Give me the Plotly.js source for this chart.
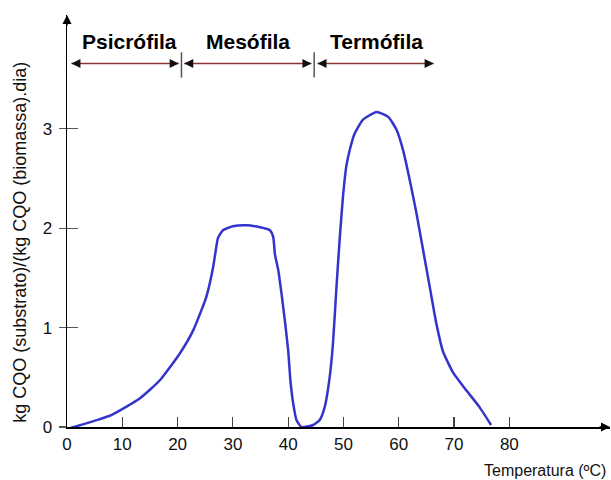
<!DOCTYPE html>
<html>
<head>
<meta charset="utf-8">
<script src="https://cdn.plot.ly/plotly-3.0.1.min.js"></script>
<style>html,body{margin:0;padding:0;background:#fff;}#chart{width:611px;height:480px;}</style>
</head>
<body>
<div id="chart"></div>
<script>
// Curve: specific substrate utilisation rate vs temperature
const temperature = [0, 8.0, 13.2, 16.8, 20.4, 22.8, 25.2, 26.4, 26.8, 27.3, 28.2, 30.0, 32.4, 34.9, 36.7, 37.3, 37.6, 38.2, 38.8, 39.4, 40.0, 40.4, 40.9, 41.5, 42.4, 44.5, 45.7, 46.6, 47.5, 48.1, 48.7, 49.3, 49.9, 50.5, 51.1, 52.0, 53.5, 56.0, 58.1, 59.6, 60.8, 62.0, 63.2, 64.4, 65.6, 66.8, 68.0, 69.8, 72.2, 74.6, 76.7];
const rate = [-0.02, 0.12, 0.29, 0.47, 0.74, 0.97, 1.31, 1.60, 1.74, 1.90, 1.98, 2.02, 2.03, 2.01, 1.98, 1.91, 1.74, 1.58, 1.34, 1.07, 0.77, 0.47, 0.24, 0.07, 0.0, 0.02, 0.07, 0.20, 0.50, 0.84, 1.38, 1.88, 2.31, 2.62, 2.78, 2.95, 3.09, 3.17, 3.12, 2.99, 2.78, 2.48, 2.15, 1.78, 1.41, 1.04, 0.76, 0.55, 0.37, 0.20, 0.02];

// Temperature zones
const zoneNames = ["Psicrófila", "Mesófila", "Termófila"];
const zoneStart = [0.8, 21.2, 45.3];
const zoneEnd = [20.2, 44.2, 66.3];
const zoneDividers = [20.7, 44.7];
const labelShift = [4, 0, 1];

const xTicks = [0, 10, 20, 30, 40, 50, 60, 70, 80];
const yTicks = [0, 1, 2, 3];

const FONT = "Liberation Sans, Arial, sans-serif";
const arrowY = 3.656;

const shapes = [];
const annotations = [];
for (let i = 0; i < zoneNames.length; i++) {
  shapes.push({type: 'line', xref: 'x', yref: 'y', x0: zoneStart[i], x1: zoneEnd[i], y0: arrowY, y1: arrowY,
    line: {color: '#8b3535', width: 1.5}});
  annotations.push({xref: 'x', yref: 'y', x: zoneEnd[i], y: arrowY, ax: -9, ay: 0, showarrow: true,
    arrowhead: 2, arrowsize: 1.2, arrowwidth: 1.5, arrowcolor: '#111', text: ''});
  annotations.push({xref: 'x', yref: 'y', x: zoneStart[i], y: arrowY, ax: 9, ay: 0, showarrow: true,
    arrowhead: 2, arrowsize: 1.2, arrowwidth: 1.5, arrowcolor: '#111', text: ''});
  annotations.push({xref: 'x', yref: 'y', x: (zoneStart[i] + zoneEnd[i]) / 2, y: 3.88, xshift: labelShift[i], showarrow: false,
    text: '<b>' + zoneNames[i] + '</b>', font: {family: FONT, size: 21, color: '#000'}, xanchor: 'center', yanchor: 'middle'});
}
zoneDividers.forEach(d => shapes.push({type: 'line', xref: 'x', yref: 'y', x0: d, x1: d, y0: 3.515, y1: 3.77,
  line: {color: '#555', width: 1.5}}));

// axis arrows
annotations.push({xref: 'paper', yref: 'paper', x: 0, y: 1, ax: 0, ay: 12, showarrow: true, arrowhead: 2,
  arrowsize: 1.2, arrowwidth: 1.5, arrowcolor: '#000', text: ''});
annotations.push({xref: 'paper', yref: 'paper', x: 1, y: 0, ax: -12, ay: 0, showarrow: true, arrowhead: 2,
  arrowsize: 1.2, arrowwidth: 1.5, arrowcolor: '#000', text: ''});

// axis titles
annotations.push({xref: 'paper', yref: 'paper', x: 0.9963, y: -0.105, xanchor: 'right', yanchor: 'middle', showarrow: false,
  text: 'Temperatura (ºC)', font: {family: FONT, size: 16, color: '#111'}});
annotations.push({xref: 'paper', yref: 'paper', x: -0.086, y: 0.448, xanchor: 'center', yanchor: 'middle', showarrow: false,
  textangle: -90, text: 'kg CQO (substrato)/(kg CQO (biomassa).dia)', font: {family: FONT, size: 18, color: '#111'}});

const data = [{
  x: temperature, y: rate, type: 'scatter', mode: 'lines',
  line: {color: '#3434cc', width: 2.5, shape: 'spline', smoothing: 0.5},
  hoverinfo: 'skip'
}, {
  x: [0], y: [0], yaxis: 'y2', type: 'scatter', mode: 'none', hoverinfo: 'skip'
}];

const layout = {
  width: 611, height: 480,
  margin: {l: 67, r: 1, t: 15, b: 53},
  paper_bgcolor: '#fff', plot_bgcolor: '#fff',
  showlegend: false,
  font: {family: FONT, size: 17, color: '#111'},
  xaxis: {range: [0, 98.2], tickvals: xTicks, ticktext: xTicks.map(String), showgrid: false, zeroline: false,
    showline: true, linecolor: '#000', linewidth: 1.5, ticks: 'inside', ticklen: 10, tickwidth: 1.2, tickcolor: '#444',
    tickfont: {family: FONT, size: 17, color: '#111'}, ticklabelstandoff: 1},
  yaxis: {range: [0, 4.145], tickvals: yTicks, showgrid: false, zeroline: false, showline: true, linecolor: '#000',
    linewidth: 1.5, ticks: 'outside', ticklen: 7, tickwidth: 1.2, tickcolor: '#555',
    tickfont: {family: FONT, size: 17, color: '#111'}, ticklabelstandoff: 3},
  yaxis2: {range: [0, 4.145], overlaying: 'y', side: 'left', tickvals: [1, 2, 3], showticklabels: false,
    showgrid: false, zeroline: false, showline: false, ticks: 'inside', ticklen: 11, tickwidth: 1.2, tickcolor: '#555'},
  shapes: shapes,
  annotations: annotations
};

Plotly.newPlot('chart', data, layout, {staticPlot: true, displayModeBar: false});
</script>
</body>
</html>
